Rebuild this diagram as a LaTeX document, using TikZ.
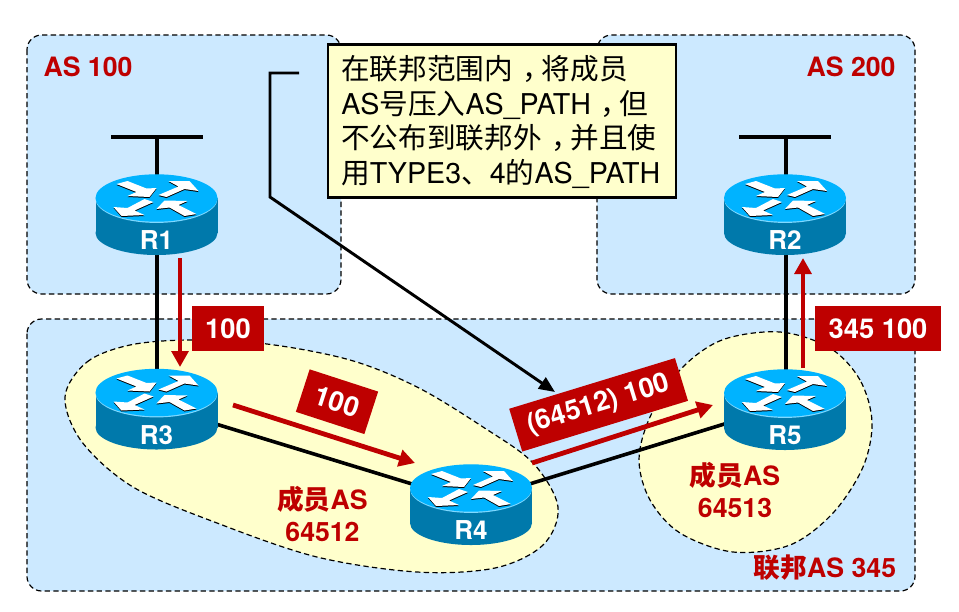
\documentclass[tikz,border=0pt]{standalone}
\usepackage{fontspec}
\setmainfont{TeX Gyre Heros}
\newfontfamily\cjk{Noto Sans CJK SC}
\newcommand{\zh}[1]{{\cjk #1}}
\newcommand{\zhcomma}{\hspace{0.32em}{\cjk ，}\hspace{-0.32em}}
\usepackage{xcolor}
\usetikzlibrary{arrows.meta,calc,positioning}
\definecolor{asblue}{HTML}{CCE9FF}
\definecolor{memberyellow}{HTML}{FFFFCC}
\definecolor{tagred}{HTML}{BE0000}
\definecolor{routertop}{HTML}{00B3FF}
\definecolor{routerside}{HTML}{0079AB}
\tikzset{
  asbox/.style={draw,fill=asblue,dash pattern=on 4pt off 2.5pt,line width=0.9pt,rounded corners=11pt},
  member/.style={draw,fill=memberyellow,dash pattern=on 4pt off 2.5pt,line width=0.9pt},
  link/.style={line width=2.7pt},
  pathflow/.style={draw=tagred,line width=3.6pt,-{Triangle[length=12pt,width=12.5pt]}},
  pathtag/.style={fill=tagred,text=white,font=\fontsize{20.5}{22}\selectfont\bfseries,inner sep=0pt,minimum height=33.5pt},
  astitle/.style={text=tagred,font=\fontsize{20}{24}\selectfont\bfseries,align=center},
  routerpt/.style={inner sep=0pt,minimum size=0pt},
  pics/router/.style={code={
    \fill[routerside] (-61,0) rectangle (61,35);
    \fill[routerside] (0,35) ellipse (61 and 22);
    \fill[routertop!50!white] (0,0.9) ellipse (61 and 24);
    \fill[routertop] (0,0) ellipse (61 and 23.7);
    \foreach \oy/\tone in {-1/black,0/white}{
      \fill[\tone,yshift=\oy*0.75pt] (-40,-14) -- (-29,-17) -- (-10,-9.5) -- (0,-10) -- (-7,-1) -- (-29,-2) -- (-20,-6) -- cycle;
      \fill[\tone,yshift=\oy*0.75pt] (2,-3) -- (22,-11.5) -- (12,-17) -- (33,-17) -- (42,-7) -- (28,-9) -- (10,-1) -- cycle;
      \fill[\tone,yshift=\oy*0.75pt] (-3,4) -- (-22,12.5) -- (-12,17) -- (-35,18) -- (-43,9) -- (-29,10) -- (-12,1) -- cycle;
      \fill[\tone,yshift=\oy*0.75pt] (40,16) -- (28,18) -- (13,9.5) -- (0,11) -- (8,2.5) -- (31,3) -- (22,7) -- cycle;
    }
    \node[text=white,font=\fontsize{19.5}{21}\selectfont\bfseries] (-label) at (0,42.5) {#1};
  }},
}
\begin{document}
\begin{tikzpicture}[x=0.75pt,y=-0.75pt]
  \useasboundingbox (0,0) rectangle (959,611);
  \draw[asbox] (27,35) rectangle (341,294);
  \draw[asbox] (597,35) rectangle (915,294);
  \draw[asbox] (27,319) rectangle (915,591);
  \draw[member] plot[smooth cycle,tension=0.55] coordinates {(65,397) (87,362) (130,345) (190,340) (267,344) (350,360) (417,387) (483,427) (533,463) (558,507) (543,545) (495,568) (417,572) (317,557) (217,523) (133,487) (82,442)};
  \draw[member] plot[smooth cycle,tension=0.55] coordinates {(872,422) (860,380) (830,348) (780,332) (722,340) (680,370) (650,417) (639,460) (650,500) (680,533) (733,552) (790,545) (833,513) (863,467)};
  \node[routerpt] (r1) at (157,212) {};
  \node[routerpt] (r2) at (786,212) {};
  \node[routerpt] (r3) at (157,406) {};
  \node[routerpt] (r4) at (471,502) {};
  \node[routerpt] (r5) at (786,405) {};
  \coordinate (lan1l) at (111,137);
  \coordinate (lan1r) at (203,137);
  \coordinate (lan1m) at (157,137);
  \coordinate (lan2l) at (739,137);
  \coordinate (lan2r) at (831,137);
  \coordinate (lan2m) at (786,137);
  \draw[link] (lan1l) -- (lan1r);
  \draw[link] (lan2l) -- (lan2r);
  \draw[link] (lan1m) -- (r1);
  \draw[link] (lan2m) -- (r2);
  \draw[link] (r1) -- (r3);
  \draw[link] (r3) -- (r4);
  \draw[link] (r4) -- (r5);
  \draw[link] (r5) -- (r2);
  \pic at (156.5,198) {router=R1};
  \pic at (785,198) {router=R2};
  \pic at (156.5,392.5) {router=R3};
  \pic at (471,488) {router=R4};
  \pic at (785,393) {router=R5};
  \coordinate (flow1a) at (180,258);
  \coordinate (flow1b) at (180,367);
  \coordinate (flow2a) at (233,405);
  \coordinate (flow2b) at (415,463);
  \coordinate (flow3a) at (532,463);
  \coordinate (flow3b) at (713,405);
  \coordinate (flow4a) at (803,368);
  \coordinate (flow4b) at (803,258);
  \draw[pathflow] (flow1a) -- (flow1b);
  \draw[pathflow] (flow2a) -- (flow2b);
  \draw[pathflow] (flow3a) -- (flow3b);
  \draw[pathflow] (flow4a) -- (flow4b);
  \node[pathtag,minimum width=54pt] (tag1) at (228,328.5) {100};
  \node[pathtag,minimum width=54pt,rotate=-18] (tag2) at (337,401.7) {100};
  \node[pathtag,minimum width=130pt,rotate=17] (tag3) at (598.6,404.8) {(64512) 100};
  \node[pathtag,minimum width=94.5pt] (tag4) at (878,328.5) {345 100};
  \node[astitle] (as100) at (88,67) {AS 100};
  \node[astitle] (as200) at (851,67) {AS 200};
  \node[astitle] (confed) at (825,568) {\zh{\bfseries 联邦}AS 345};
  \node[astitle] (member1) at (322.5,514) {\zh{\bfseries 成员}AS\\64512};
  \node[astitle] (member2) at (735,490) {\zh{\bfseries 成员}AS\\64513};
  \coordinate (leadstart) at (299,73);
  \coordinate (leadtop) at (270,73);
  \coordinate (leadbend) at (270,197);
  \coordinate (leadend) at (555,392);
  \draw[line width=2.2pt,-{Triangle[length=12pt,width=10pt]}] (leadstart) -- (leadtop) -- (leadbend) -- (leadend);
  \node[draw,fill=memberyellow,line width=2.2pt,minimum width=261pt,minimum height=114.5pt,inner sep=0pt] (note) at (502,121) {};
  \node[anchor=west,align=left,inner sep=0pt,font=\fontsize{21.5}{26.2}\selectfont] (notetext) at (341,122) {\zh{在联邦范围内}\zhcomma\zh{将成员}\\AS\zh{号压入}AS\_PATH\zhcomma\zh{但}\\\zh{不公布到联邦外}\zhcomma\zh{并且使}\\\zh{用}TYPE3\zh{、}4\zh{的}AS\_PATH};
\end{tikzpicture}
\end{document}
